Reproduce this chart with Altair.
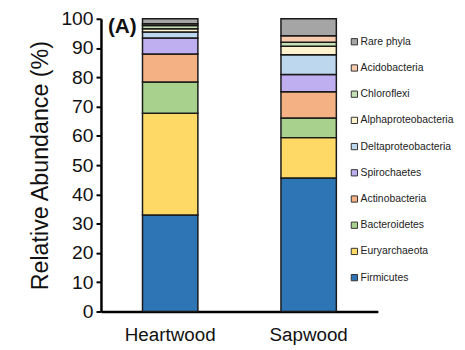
import altair as alt
import pandas as pd

phyla = ["Firmicutes", "Euryarchaeota", "Bacteroidetes", "Actinobacteria",
         "Spirochaetes", "Deltaproteobacteria", "Alphaproteobacteria",
         "Chloroflexi", "Acidobacteria", "Rare phyla"]
colors = ["#2E75B6", "#FFD966", "#A9D18E", "#F4B183", "#BFAEF0",
          "#BDD7EE", "#FFF2CC", "#C5E0B4", "#F8CBAD", "#A5A5A5"]
samples = ["Heartwood", "Sapwood"]
heartwood = [33.0, 34.7, 10.7, 9.6, 5.4, 2.1, 1.1, 1.1, 0.6, 1.7]
sapwood = [45.6, 13.8, 6.7, 9.0, 5.9, 6.7, 2.9, 1.4, 2.2, 5.8]
y_ticks = list(range(0, 101, 10))

rows = []
for s, vals in zip(samples, [heartwood, sapwood]):
    for i, (p, v) in enumerate(zip(phyla, vals)):
        rows.append({"Sample": s, "Phylum": p, "Value": v, "idx": i})
df = pd.DataFrame(rows)

FONT = "Liberation Sans"

bars = alt.Chart(df).mark_bar(size=56, stroke="#1a1a1a", strokeWidth=1.5).encode(
    x=alt.X("Sample:N", sort=samples,
            scale=alt.Scale(paddingInner=0, paddingOuter=0),
            axis=alt.Axis(title=None, labelAngle=0, ticks=False,
                          labelFontSize=19, labelColor="#111", labelFont=FONT,
                          labelPadding=14, domainColor="black", domainWidth=2.5)),
    y=alt.Y("Value:Q", stack="zero",
            scale=alt.Scale(domain=[0, 100], nice=False),
            axis=alt.Axis(title="Relative Abundance (%)", values=y_ticks,
                          grid=False, labelFontSize=19.5, labelColor="#111",
                          labelFont=FONT, titleFont=FONT, titleFontSize=23.5,
                          titleFontWeight="normal", titleColor="#111",
                          titlePadding=9, tickColor="black", tickWidth=2,
                          tickSize=5, labelPadding=3, domainColor="black",
                          domainWidth=2.5)),
    color=alt.Color("Phylum:N",
                    scale=alt.Scale(domain=phyla[::-1], range=colors[::-1]),
                    legend=alt.Legend(title=None, orient="none", legendX=251,
                                      legendY=18, symbolType="square",
                                      symbolSize=40, symbolStrokeColor="#333",
                                      symbolStrokeWidth=1, labelFontSize=10.5,
                                      labelFont=FONT, labelColor="#222",
                                      rowPadding=15.5, labelOffset=1,
                                      labelLimit=200)),
    order=alt.Order("idx:Q", sort="ascending"),
)

label = alt.Chart(pd.DataFrame({"t": ["(A)"]})).mark_text(
    font=FONT, fontSize=21, fontWeight="bold", align="left", baseline="middle",
    color="#111"
).encode(x=alt.value(7), y=alt.value(8), text="t:N")

chart = (bars + label).properties(
    width=280, height=296,
    autosize=alt.AutoSizeParams(type="none"),
    padding={"left": 94, "top": 9, "right": 80, "bottom": 34},
).configure_view(stroke=None)

chart.save("out.html", embed_options={"renderer": "svg", "actions": False})
